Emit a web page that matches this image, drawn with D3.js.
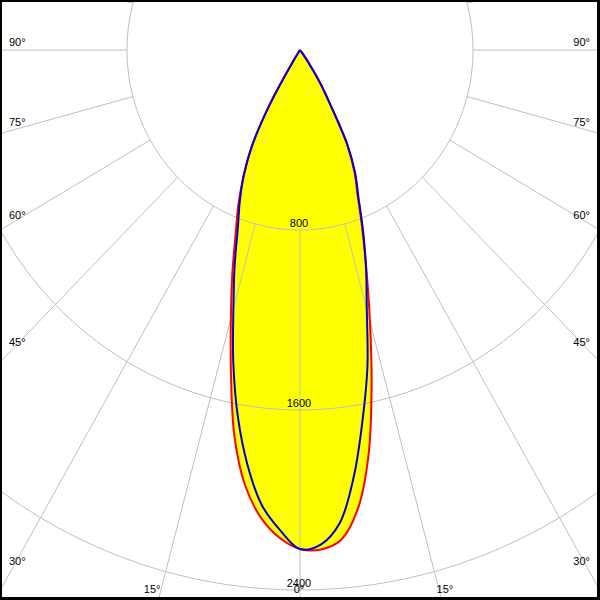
<!DOCTYPE html>
<html><head><meta charset="utf-8">
<script src="https://cdn.jsdelivr.net/npm/d3@7"></script>
<style>html,body{margin:0;padding:0;background:#fff}svg{display:block}</style>
</head><body>
<script>
// ---- data ----
const angles = [-90,-60,-45,-40,-37.5,-35,-32.5,-30,-27.5,-25,-22.5,-20,-17.5,-15,-12.5,-10,-7.5,-5,-2.5,0,2.5,5,7.5,10,12.5,15,17.5,20,22.5,25,27.5,30,32.5,35,37.5,40,45,60,90];
const redValues  = [0,0,0,0,0,0,60,280,480,615,745,870,1040,1235,1475,1745,1950,2085,2170,2218,2222,2185,2055,1826,1530,1250,1020,840,695,595,470,280,170,70,15,0,0,0,0];
const blueValues = [0,0,0,0,0,0,60,283,482,617,727,840,1005,1190,1425,1655,1860,2030,2135,2218,2200,2110,1910,1668,1441,1193,1015,851,705,603,475,283,172,72,15,0,0,0,0];
const ringValues = [800,1600,2400];
const ringLabels = ["800","1600","2400"];
const spokeAngles = d3.range(-180,180,15);
const angleLabelValues = [0,15,30,45,60,75,90];

// ---- layout ----
const W=600,H=600, cx=300, cy=50;
const sx = d3.scaleLinear().domain([0,800]).range([0,173]);
const sy = d3.scaleLinear().domain([0,800]).range([0,180]);
const rad = a => a*Math.PI/180;
const px = (a,v) => cx + sx(v)*Math.sin(rad(a));
const py = (a,v) => cy + sy(v)*Math.cos(rad(a));

const svg = d3.select("body").append("svg").attr("width",W).attr("height",H);
svg.append("defs").append("clipPath").attr("id","clip").append("rect")
  .attr("x",2).attr("y",2).attr("width",595).attr("height",595);
const g = svg.append("g").attr("clip-path","url(#clip)");

const pts = vals => angles.map((a,i)=>[px(a,vals[i]),py(a,vals[i])]);
const line = d3.line().curve(d3.curveCatmullRom.alpha(0.5));
const area = d3.line().curve(d3.curveCatmullRomClosed.alpha(0.5));

// fills
[redValues, blueValues].forEach(v=>{
  g.append("path").attr("d", area(pts(v))).attr("fill","#ffff00").attr("stroke","none");
});

// grid rings
const ringLine = d3.line();
ringValues.forEach(v=>{
  const p = d3.range(0,361,2).map(a=>[px(a,v),py(a,v)]);
  g.append("path").attr("d",ringLine(p)).attr("fill","none").attr("stroke","#c0c0c0").attr("stroke-width",1);
});
// spokes
spokeAngles.forEach(a=>{
  g.append("line").attr("x1",px(a,800)).attr("y1",py(a,800))
    .attr("x2",px(a,4000)).attr("y2",py(a,4000))
    .attr("stroke","#c0c0c0").attr("stroke-width",1);
});

// curves
g.append("path").attr("d", line(pts(redValues))).attr("fill","none").attr("stroke","#ff0000").attr("stroke-width",2).attr("stroke-linejoin","round");
g.append("path").attr("d", line(pts(blueValues))).attr("fill","none").attr("stroke","#0000dd").attr("stroke-width",2).attr("stroke-linejoin","round");

// labels
const font = "'Liberation Sans', Arial, sans-serif";
const txt = (x,y,s,anchor)=> svg.append("text").attr("x",x).attr("y",y).text(s)
  .attr("font-family",font).attr("font-size",11).attr("fill","#000").attr("text-anchor",anchor||"start");

ringValues.forEach((v,i)=> txt(299, py(0,v)-3, ringLabels[i], "middle"));

angleLabelValues.forEach(a=>{
  if(a===0){ txt(299,593,"0°","middle"); return; }
  const k = (cx-9)/sx(1);
  const yEdge = cy + sy(1)*k/Math.tan(rad(a));
  if (yEdge < 590) {
    const off = 4 + (yEdge-cy)/100;
    txt(9, yEdge-off, a+"°", "start");
    txt(590, yEdge-off, a+"°", "end");
  } else {
    const kv = (597-cy)/sy(1);
    const dx = sx(1)*kv*Math.tan(rad(a));
    txt(cx-dx-7, 593, a+"°", "middle");
    txt(cx+dx+4, 593, a+"°", "middle");
  }
});

// frame
[[0,0,2,600],[0,0,600,2],[597,0,3,600],[0,597,600,3]].forEach(r=>{
  svg.append("rect").attr("x",r[0]).attr("y",r[1]).attr("width",r[2]).attr("height",r[3]).attr("fill","#000");
});
</script>
</body></html>
